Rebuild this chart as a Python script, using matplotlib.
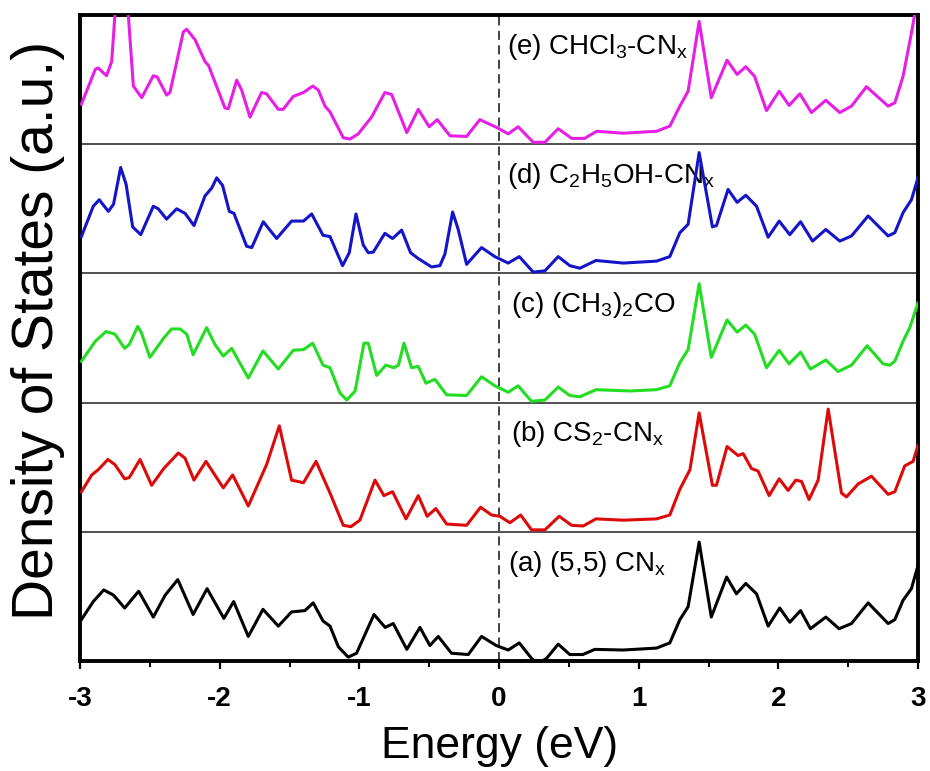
import matplotlib
matplotlib.use("Agg")
import matplotlib.pyplot as plt
from matplotlib.ticker import MultipleLocator

# energies (eV) and relative DOS, one list pair per panel
E_a = [-2.99,-2.905,-2.83,-2.76,-2.68,-2.58,-2.475,-2.39,-2.30,-2.19,-2.09,-1.97,-1.90,-1.795,-1.69,-1.58,-1.485,-1.39,-1.33,-1.26,-1.21,-1.15,-1.08,-1.02,-0.895,-0.815,-0.757,-0.66,-0.566,-0.495,-0.435,-0.34,-0.22,-0.125,-0.02,0.066,0.145,0.233,0.28,0.34,0.424,0.507,0.60,0.686,0.89,1.128,1.223,1.295,1.354,1.433,1.52,1.63,1.70,1.767,1.844,1.927,2.01,2.082,2.159,2.23,2.34,2.435,2.524,2.643,2.786,2.834,2.893,2.953,3.0]
dos_a = [0.32,0.46,0.55,0.51,0.41,0.54,0.34,0.51,0.63,0.36,0.56,0.33,0.46,0.19,0.40,0.27,0.38,0.39,0.45,0.31,0.27,0.11,0.03,0.06,0.36,0.26,0.29,0.09,0.26,0.12,0.19,0.06,0.05,0.19,0.12,0.085,0.14,0.02,-0.02,0.02,0.13,0.05,0.05,0.09,0.085,0.10,0.14,0.32,0.42,0.92,0.34,0.65,0.52,0.60,0.52,0.27,0.41,0.30,0.39,0.25,0.34,0.25,0.29,0.45,0.29,0.32,0.47,0.56,0.74]

E_b = [-2.99,-2.916,-2.87,-2.80,-2.75,-2.68,-2.647,-2.57,-2.487,-2.40,-2.296,-2.248,-2.184,-2.098,-1.974,-1.907,-1.795,-1.664,-1.573,-1.485,-1.40,-1.31,-1.21,-1.115,-1.06,-0.996,-0.888,-0.824,-0.762,-0.666,-0.578,-0.514,-0.452,-0.375,-0.232,-0.132,-0.053,0.006,0.078,0.155,0.233,0.329,0.431,0.52,0.603,0.694,0.89,1.128,1.223,1.295,1.367,1.433,1.528,1.557,1.633,1.712,1.748,1.808,1.855,1.934,2.006,2.07,2.125,2.166,2.22,2.285,2.357,2.452,2.488,2.571,2.667,2.786,2.834,2.905,2.965,3.0]
dos_b = [0.31,0.44,0.48,0.56,0.52,0.41,0.42,0.56,0.36,0.49,0.61,0.57,0.40,0.545,0.34,0.44,0.20,0.52,0.82,0.40,0.38,0.545,0.30,0.05,0.04,0.09,0.40,0.28,0.31,0.10,0.28,0.12,0.18,0.06,0.05,0.19,0.13,0.12,0.07,0.13,0.015,0.015,0.12,0.05,0.045,0.10,0.09,0.10,0.13,0.33,0.48,0.92,0.36,0.36,0.66,0.59,0.605,0.49,0.47,0.28,0.41,0.32,0.40,0.39,0.25,0.40,0.95,0.30,0.27,0.37,0.43,0.29,0.31,0.51,0.545,0.67]

E_c = [-2.99,-2.89,-2.814,-2.75,-2.68,-2.647,-2.587,-2.56,-2.50,-2.40,-2.344,-2.284,-2.236,-2.19,-2.093,-2.034,-1.974,-1.914,-1.795,-1.69,-1.58,-1.473,-1.40,-1.334,-1.26,-1.21,-1.139,-1.09,-1.03,-0.967,-0.936,-0.876,-0.81,-0.752,-0.72,-0.68,-0.626,-0.578,-0.523,-0.459,-0.375,-0.232,-0.125,-0.03,0.066,0.137,0.233,0.329,0.424,0.507,0.579,0.694,0.937,1.128,1.223,1.295,1.354,1.433,1.52,1.633,1.705,1.767,1.83,1.915,2.006,2.077,2.159,2.23,2.34,2.428,2.524,2.636,2.75,2.798,2.834,2.893,2.941,3.0]
dos_c = [0.32,0.475,0.55,0.53,0.42,0.45,0.59,0.54,0.35,0.50,0.57,0.57,0.53,0.37,0.58,0.45,0.36,0.42,0.19,0.40,0.26,0.405,0.41,0.46,0.29,0.27,0.075,0.02,0.09,0.46,0.46,0.21,0.29,0.27,0.29,0.46,0.27,0.28,0.15,0.18,0.06,0.055,0.20,0.13,0.08,0.13,0.01,0.02,0.12,0.055,0.045,0.10,0.09,0.10,0.13,0.31,0.41,0.92,0.35,0.64,0.545,0.60,0.53,0.27,0.405,0.30,0.39,0.26,0.33,0.24,0.29,0.44,0.30,0.29,0.32,0.475,0.58,0.77]

E_d = [-2.99,-2.905,-2.862,-2.797,-2.76,-2.709,-2.67,-2.623,-2.565,-2.475,-2.44,-2.38,-2.308,-2.248,-2.184,-2.105,-2.057,-2.021,-1.979,-1.931,-1.898,-1.807,-1.77,-1.688,-1.592,-1.485,-1.40,-1.341,-1.26,-1.21,-1.12,-1.072,-1.024,-0.972,-0.936,-0.90,-0.817,-0.762,-0.697,-0.633,-0.578,-0.483,-0.423,-0.387,-0.332,-0.292,-0.232,-0.125,-0.03,0.066,0.145,0.245,0.329,0.424,0.507,0.579,0.694,0.89,1.128,1.223,1.295,1.354,1.433,1.528,1.557,1.64,1.705,1.767,1.844,1.927,2.006,2.082,2.159,2.245,2.34,2.44,2.524,2.643,2.786,2.834,2.893,2.953,3.0]
dos_d = [0.285,0.52,0.57,0.48,0.535,0.82,0.69,0.36,0.30,0.52,0.50,0.42,0.50,0.465,0.37,0.60,0.66,0.74,0.68,0.48,0.465,0.21,0.20,0.40,0.27,0.405,0.405,0.46,0.295,0.285,0.06,0.16,0.46,0.22,0.16,0.165,0.31,0.27,0.335,0.16,0.115,0.05,0.06,0.15,0.475,0.34,0.07,0.20,0.13,0.08,0.13,0.01,0.02,0.13,0.06,0.04,0.10,0.08,0.095,0.13,0.315,0.38,0.935,0.36,0.37,0.65,0.55,0.605,0.52,0.28,0.405,0.30,0.40,0.25,0.34,0.25,0.29,0.445,0.29,0.315,0.47,0.57,0.74]

E_e = [-2.99,-2.89,-2.87,-2.81,-2.773,-2.75,-2.72,-2.654,-2.618,-2.558,-2.475,-2.447,-2.38,-2.356,-2.26,-2.236,-2.177,-2.105,-2.08,-1.962,-1.938,-1.878,-1.843,-1.783,-1.70,-1.664,-1.58,-1.545,-1.473,-1.40,-1.334,-1.294,-1.246,-1.21,-1.115,-1.067,-1.008,-0.912,-0.817,-0.769,-0.66,-0.578,-0.50,-0.442,-0.351,-0.232,-0.137,-0.017,0.066,0.137,0.245,0.329,0.424,0.52,0.612,0.70,0.89,1.128,1.223,1.295,1.354,1.433,1.52,1.633,1.705,1.767,1.83,1.915,2.006,2.077,2.154,2.237,2.34,2.44,2.524,2.631,2.786,2.834,2.893,2.953,3.0]
dos_e = [0.31,0.58,0.59,0.53,0.64,1.0,1.4,1.0,0.45,0.36,0.53,0.52,0.38,0.40,0.87,0.89,0.81,0.64,0.61,0.28,0.275,0.495,0.42,0.21,0.40,0.39,0.27,0.27,0.37,0.40,0.45,0.42,0.295,0.25,0.05,0.04,0.08,0.21,0.40,0.385,0.09,0.27,0.135,0.19,0.065,0.06,0.19,0.13,0.08,0.135,0.015,0.015,0.12,0.045,0.045,0.10,0.085,0.10,0.14,0.295,0.41,0.95,0.36,0.65,0.54,0.60,0.525,0.26,0.41,0.30,0.39,0.245,0.34,0.245,0.295,0.445,0.295,0.32,0.525,0.86,1.15]

labels = ["(a) (5,5) CN$_x$", "(b) CS$_2$-CN$_x$", "(c) (CH$_3$)$_2$CO",
          "(d) C$_2$H$_5$OH-CN$_x$", "(e) CHCl$_3$-CN$_x$"]
colors = ["black", "#DD0A0A", "#22DD22", "#1414C8", "#E61EE6"]
label_x = [0.064, 0.083, 0.083, 0.055, 0.057]

plt.rcParams['font.family'] = ['Liberation Sans', 'DejaVu Sans']
plt.rcParams['mathtext.fontset'] = 'custom'
plt.rcParams['mathtext.rm'] = 'Liberation Sans'
plt.rcParams['mathtext.default'] = 'regular'
plt.rcParams['axes.unicode_minus'] = False

fig = plt.figure(figsize=(9.3, 7.71), dpi=100)
ax = fig.add_axes([80/930, 1-661/771, 838/930, 646/771])

curves = [(E_a, dos_a), (E_b, dos_b), (E_c, dos_c), (E_d, dos_d), (E_e, dos_e)]
for i, (E, d) in enumerate(curves):
    ax.plot(E, [y + i for y in d], color=colors[i], lw=2.2, zorder=3,
            solid_joinstyle='round')
    ax.text(label_x[i], i + 0.70, labels[i], fontsize=20, ha='left', va='baseline', zorder=2)

for k in range(1, 5):
    ax.axhline(k, color='#333333', lw=1.2, zorder=2)
ax.axvline(0, color='#333333', lw=1.3, ls=(0, (5, 3)), zorder=2)

ax.set_xlim(-3, 3)
ax.set_ylim(0, 5)
ax.set_yticks([])
ax.xaxis.set_major_locator(MultipleLocator(1))
ax.xaxis.set_minor_locator(MultipleLocator(0.5))
ax.tick_params(axis='x', which='major', direction='out', length=6, width=1.6, pad=12, labelsize=20)
ax.tick_params(axis='x', which='minor', direction='out', length=4, width=1.4)
for lbl in ax.get_xticklabels():
    lbl.set_fontweight('bold')
for s in ax.spines.values():
    s.set_linewidth(2.8)

fig.text(500/930, 1-758/771, 'Energy (eV)', ha='center', va='baseline', fontsize=32)
fig.text(38/930, 1-330/771, 'Density of States (a.u.)', rotation=90,
         ha='center', va='center', fontsize=41)

fig.savefig("out.png", dpi=100)
